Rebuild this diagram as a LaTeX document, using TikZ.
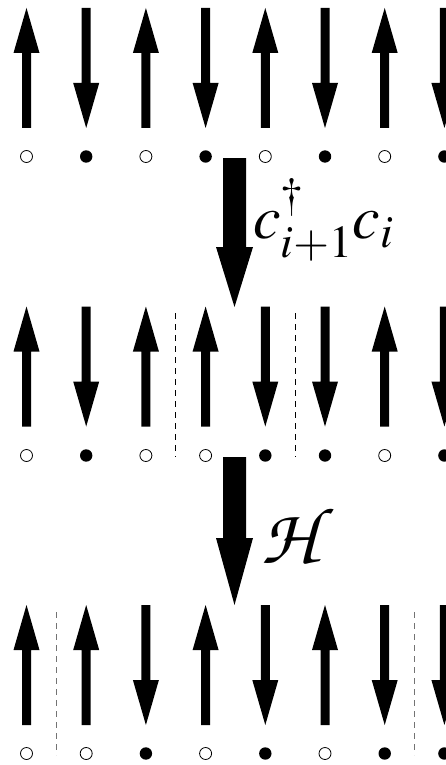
\documentclass[tikz,border=0pt]{standalone}
\usepackage{mathptmx}
\DeclareMathAlphabet{\mathcal}{OT1}{pzc}{m}{it}
\tikzset{
  opensite/.style={draw=black, line width=0.8pt, fill=white},
  fullsite/.style={fill=black},
  wallblack/.style={draw=black, line width=0.9pt, dash pattern=on 6pt off 5pt},
  wallgray/.style={draw=black!55, line width=1pt, dash pattern=on 6pt off 5pt},
  spinup/.pic={\fill[black] (-4.5,120) -- (-4.5,45) -- (-13,45) -- (0,0) -- (13,45) -- (4.5,45) -- (4.5,120) -- cycle;},
  spindown/.pic={\fill[black] (-4.5,0) -- (-4.5,75) -- (-13,75) -- (0,120) -- (13,75) -- (4.5,75) -- (4.5,0) -- cycle;},
  biglabel/.style={inner sep=0pt, font=\fontsize{62}{62}\selectfont},
  hamlabel/.style={inner sep=0pt, font=\fontsize{80}{80}\selectfont}
}
\begin{document}
\begin{tikzpicture}[x=1pt,y=-1pt]
\useasboundingbox (0,0) rectangle (446,765);
% row 1
\foreach \k/\s/\c in {1/up/o,2/down/f,3/up/o,4/down/f,5/up/o,6/down/f,7/up/o,8/down/f}{
  \pgfmathsetmacro{\xx}{26.5+59.7*(\k-1)}
  \pic at (\xx,8) {spin\s};
  \if\c o \draw[opensite] (\xx,156.5) circle (6pt); \else \fill[fullsite] (\xx,156.5) circle (6.2pt); \fi
}
% row 2
\foreach \k/\s/\c in {1/up/o,2/down/f,3/up/o,4/up/o,5/down/f,6/down/f,7/up/o,8/down/f}{
  \pgfmathsetmacro{\xx}{26.5+59.7*(\k-1)}
  \pic at (\xx,306.5) {spin\s};
  \if\c o \draw[opensite] (\xx,455.5) circle (6pt); \else \fill[fullsite] (\xx,455.5) circle (6.2pt); \fi
}
\coordinate (w1a) at (175.7,313); \coordinate (w1b) at (175.7,457);
\coordinate (w2a) at (295.2,313); \coordinate (w2b) at (295.2,457);
\draw[wallblack] (w1a) -- (w1b);
\draw[wallblack] (w2a) -- (w2b);
% row 3
\foreach \k/\s/\c in {1/up/o,2/up/o,3/down/f,4/up/o,5/down/f,6/up/o,7/down/f,8/down/f}{
  \pgfmathsetmacro{\xx}{26.5+59.7*(\k-1)}
  \pic at (\xx,605) {spin\s};
  \if\c o \draw[opensite] (\xx,753.5) circle (6pt); \else \fill[fullsite] (\xx,753.5) circle (6.2pt); \fi
}
\coordinate (w3a) at (56,612); \coordinate (w3b) at (56,755);
\coordinate (w4a) at (414.3,612); \coordinate (w4b) at (414.3,755);
\draw[wallgray] (w3a) -- (w3b);
\draw[wallgray] (w4a) -- (w4b);
% big arrows
\fill[black] (223,158) -- (223,247) -- (216,247) -- (234.5,307) -- (253,247) -- (246,247) -- (246,158) -- cycle;
\fill[black] (223,457) -- (223,538) -- (216,538) -- (234.5,605) -- (253,538) -- (246,538) -- (246,457) -- cycle;
\node[biglabel, anchor=west] (hop) at (253,220) {$c^{\dagger}_{i+1}c_i$};
\node[hamlabel, anchor=west] (ham) at (261,536) {$\mathcal{H}$};
\end{tikzpicture}
\end{document}
